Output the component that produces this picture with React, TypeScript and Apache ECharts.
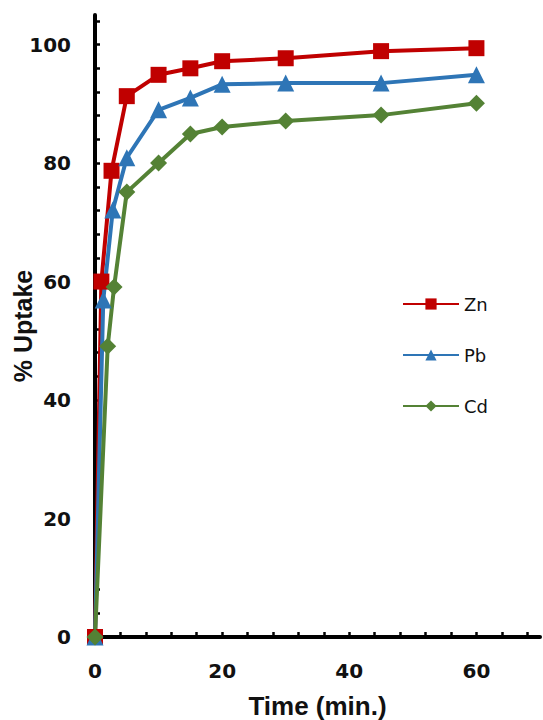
import React, { useEffect, useRef } from 'react';
import * as echarts from 'echarts';

const znTime = [0, 1, 2.6, 5, 10, 15, 20, 30, 45, 60];
const znUptake = [0, 60, 78.7, 91.3, 94.9, 96.0, 97.2, 97.7, 98.9, 99.4];
const pbTime = [0, 1.3, 2.8, 5, 10, 15, 20, 30, 45, 60];
const pbUptake = [0, 56.9, 72.1, 80.9, 89.0, 91.0, 93.3, 93.5, 93.5, 94.9];
const cdTime = [0, 2, 3, 5, 10, 15, 20, 30, 45, 60];
const cdUptake = [0, 49.1, 59.1, 75.1, 80.0, 84.9, 86.1, 87.1, 88.1, 90.1];

const seriesNames = ['Zn', 'Pb', 'Cd'];
const xLabels = [0, 20, 40, 60];
const yLabels = [0, 20, 40, 60, 80, 100];

const pairs = (xs: number[], ys: number[]) => xs.map((x, i) => [x, ys[i]]);

export default function App() {
  const ref = useRef<HTMLDivElement>(null);
  useEffect(() => {
    if (!ref.current) return;
    const chart = echarts.init(ref.current, null, { renderer: 'svg' });
    const tickFont = {
      fontFamily: 'DejaVu Sans',
      fontWeight: 'bold' as const,
      fontSize: 20,
      color: '#111',
    };
    const nameFont = {
      fontFamily: 'Liberation Sans',
      fontWeight: 'bold' as const,
      color: '#111',
    };
    const mkLine = (name: string, color: string, symbol: string, size: number, data: number[][]) => ({
      name,
      type: 'line',
      data,
      symbol,
      symbolSize: size,
      showAllSymbol: true,
      clip: false,
      itemStyle: { color },
      lineStyle: { color, width: 4 },
      emphasis: { disabled: true },
    });
    chart.setOption({
      animation: false,
      backgroundColor: '#fff',
      grid: {
        left: 95,
        right: 3,
        top: 15,
        bottom: 83,
        containLabel: false,
        outerBoundsMode: 'none',
      },
      legend: {
        data: seriesNames,
        orient: 'vertical',
        left: 402,
        top: 295,
        itemWidth: 56,
        itemHeight: 14,
        itemGap: 33,
        padding: 0,
        textStyle: { fontFamily: 'DejaVu Sans', fontSize: 18, color: '#111' },
      },
      xAxis: {
        type: 'value',
        min: 0,
        max: 70,
        interval: 4,
        name: 'Time (min.)',
        nameLocation: 'middle',
        nameGap: 56,
        nameMoveOverlap: false,
        nameTextStyle: { ...nameFont, fontSize: 26 },
        axisLine: { show: true, onZero: false, lineStyle: { color: '#000', width: 4 } },
        axisTick: { show: true, inside: true, length: 5, lineStyle: { color: '#000', width: 2.5 } },
        splitLine: { show: false },
        axisLabel: {
          ...tickFont,
          margin: 24,
          showMaxLabel: false,
          formatter: (v: number) => (xLabels.includes(v) ? String(v) : ''),
        },
      },
      yAxis: {
        type: 'value',
        min: 0,
        max: 105,
        interval: 4,
        name: '% Uptake',
        nameLocation: 'middle',
        nameGap: 60,
        nameMoveOverlap: false,
        nameRotate: 90,
        nameTextStyle: { ...nameFont, fontSize: 25 },
        axisLine: { show: true, onZero: false, lineStyle: { color: '#000', width: 4 } },
        axisTick: { show: true, inside: true, length: 5, lineStyle: { color: '#000', width: 2.5 } },
        splitLine: { show: false },
        axisLabel: {
          ...tickFont,
          margin: 24,
          showMaxLabel: false,
          formatter: (v: number) => (yLabels.includes(v) ? String(v) : ''),
        },
      },
      series: [
        mkLine('Zn', '#C00000', 'rect', 16, pairs(znTime, znUptake)),
        mkLine('Pb', '#2E75B6', 'triangle', 17, pairs(pbTime, pbUptake)),
        mkLine('Cd', '#548235', 'diamond', 17, pairs(cdTime, cdUptake)),
      ],
    });
    return () => chart.dispose();
  }, []);
  return (
    <div
      ref={ref}
      style={{ position: 'fixed', left: 0, top: 0, width: 543, height: 720, background: '#fff' }}
    />
  );
}
